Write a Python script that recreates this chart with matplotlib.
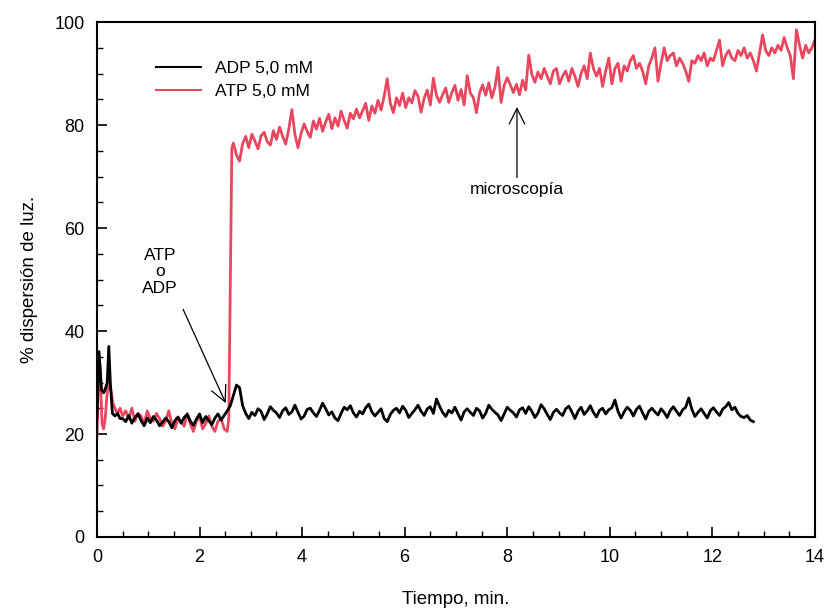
import numpy as np
import matplotlib
matplotlib.use("Agg")
import matplotlib.pyplot as plt
from matplotlib.ticker import MultipleLocator

plt.rcParams['font.family'] = ['Liberation Sans', 'DejaVu Sans']

# ---------------- data ----------------
# ADP 5,0 mM (black) : early explicit samples, then regular sampling
adp_t_early = [0.0, 0.02, 0.04, 0.06, 0.09, 0.13, 0.17, 0.20, 0.23, 0.26, 0.30, 0.35, 0.40, 0.45]
adp_v_early = [23, 30, 36, 33, 28.5, 28, 29, 30, 37, 30, 24, 23.5, 24, 23]
adp_t0, adp_dt = 0.5, 0.06
adp_v = [
    23.0, 22.4, 23.6, 22.1, 23.2, 23.9, 22.6, 21.6, 23.1, 22.2,
    23.4, 22.7, 21.6, 22.3, 23.1, 22.4, 21.2, 22.6, 23.3, 22.1,
    23.2, 23.8, 22.5, 21.7, 22.9, 23.9, 22.2, 23.4, 22.6, 21.8,
    23.1, 23.9, 22.7, 23.6,
    24.5, 25.5, 27.5, 29.5, 29.0, 25.5, 24.0, 23.0,
    24.2, 23.6, 24.9, 24.4, 22.8, 23.9, 25.3, 24.6, 24.1, 23.2,
    24.5, 25.1, 23.8, 24.3, 25.6, 24.2, 22.9, 23.5, 24.8, 25.0,
    24.1, 23.4, 24.6, 26.0, 24.9, 23.7, 24.3, 23.1, 22.6, 24.0,
    25.2, 24.7, 25.5, 24.1, 23.3, 24.4, 23.9, 25.1, 25.8, 24.3,
    23.5, 24.2, 24.9, 23.0, 22.4, 23.8, 24.6, 25.0, 24.1, 25.4,
    24.6, 23.2, 24.0, 24.7, 25.6, 24.4, 23.6, 24.9, 25.3, 24.0,
    26.8, 25.4, 24.2, 23.4, 24.6, 24.1, 25.2, 23.9, 22.7, 24.3,
    24.9, 24.2, 23.6, 25.0, 24.5, 23.1, 24.0, 25.6, 24.8, 24.2,
    23.7, 22.6, 23.9, 25.2, 24.6, 24.1, 23.3, 24.7, 25.1, 24.0,
    25.3, 24.4, 23.2, 24.1, 25.7, 24.9, 23.8, 22.8, 24.2, 24.8,
    24.1, 23.6, 24.9, 25.4, 24.3, 23.0, 24.4, 25.2, 23.8, 24.5,
    25.5, 24.2, 23.3, 24.6, 25.0, 23.9, 24.7, 25.1, 26.6, 24.4,
    23.1, 24.3, 25.2, 24.6, 23.5, 24.8, 25.4, 24.1, 22.9, 24.4,
    25.0, 24.3, 23.7, 24.9, 24.2, 23.2, 24.6, 25.3, 24.4, 23.6,
    24.7, 25.2, 27.0, 24.8, 23.4, 24.2, 24.9, 24.0, 23.1, 24.5,
    25.1, 24.3, 23.6, 24.8, 25.3, 26.1, 24.7, 25.2, 24.0, 23.4,
    23.2, 23.6, 22.7, 22.4,
]

# ATP 5,0 mM (red)
atp_t_early = [0.0, 0.02, 0.04, 0.06, 0.08, 0.10, 0.13, 0.16, 0.19, 0.22, 0.25, 0.28, 0.31, 0.35, 0.40, 0.45]
atp_v_early = [19.5, 28, 34, 33, 27, 22, 21, 23, 27, 30, 29.5, 28, 26, 25, 24, 25]
atp_t0_a, atp_dt = 0.5, 0.06
atp_v_a = [
    23.5, 24.5, 23.0, 25.0, 22.5, 24.0, 23.5, 22.0, 24.5, 23.0,
    22.5, 24.0, 23.0, 21.5, 22.5, 24.5, 22.0, 21.0, 23.0, 22.5,
    21.5, 24.0, 22.0, 20.5, 22.5, 23.5, 21.0, 22.0, 23.5, 21.5,
    20.5, 22.5, 23.0, 21.0, 20.5,
]
atp_t_jump = [2.57, 2.60, 2.63]
atp_v_jump = [23.0, 50.0, 75.5]
atp_t0_b = 2.66
atp_v_b = [
    76.5, 74.2, 73.0, 76.4, 77.8, 75.6, 78.2, 76.9, 75.4, 77.9,
    78.6, 76.8, 76.1, 78.9, 77.2, 79.6, 77.8, 76.3, 79.2, 83.0,
    78.2, 75.6, 78.4, 80.2, 78.7, 77.6, 80.8, 79.2, 81.3, 78.8,
    80.6, 82.1, 79.3, 81.4, 79.8, 82.7, 80.9, 79.4, 82.3, 81.2,
    83.1, 81.4, 82.8, 84.2, 80.9, 83.7, 82.3, 84.8, 82.9, 85.6,
    89.0, 84.2, 82.4, 85.3, 83.8, 86.2, 83.4, 85.3, 84.3, 86.7,
    85.6, 82.5, 85.2, 86.8, 83.9, 89.1, 85.8, 84.4, 85.9, 87.2,
    84.4, 86.3, 87.7, 84.8, 86.9, 83.9, 89.6, 86.2, 85.3, 82.4,
    86.2, 87.8, 85.8, 88.2, 85.3, 87.3, 91.2, 84.4, 87.7, 89.2,
    87.8, 86.3, 87.9, 85.9, 88.7, 86.8, 93.6, 89.8, 88.3, 90.3,
    89.0, 91.0, 89.5, 88.0, 90.5, 91.0, 88.0, 89.5, 90.5, 88.5,
    91.0, 89.5, 87.5, 90.0, 91.5, 89.0, 94.0, 91.0, 89.5, 91.0,
    87.5, 90.5, 93.0, 88.0, 91.0, 92.0, 88.5, 91.5, 90.5, 92.5,
    93.5, 91.0, 92.0, 90.5, 88.0, 91.5, 93.0, 95.0, 88.5, 92.0,
    95.0, 92.5, 93.5, 94.0, 91.5, 93.0, 92.0, 90.5, 88.5, 92.5,
    92.0, 93.5, 92.5, 94.0, 91.5, 93.0, 92.5, 94.5, 96.5, 91.5,
    93.5, 94.5, 93.0, 92.5, 94.5, 93.5, 95.0, 93.0, 94.0, 92.5,
    90.5, 94.0, 97.5, 94.5, 93.5, 95.0, 94.0, 95.5, 94.5, 97.0,
    95.0, 93.5, 89.0, 98.5, 95.5, 93.0, 95.5, 94.0, 95.0, 96.5,
]

x_ticks = [0, 2, 4, 6, 8, 10, 12, 14]
y_ticks = [0, 20, 40, 60, 80, 100]

# ---------------- build series ----------------
adp_t = np.concatenate([adp_t_early, adp_t0 + adp_dt * np.arange(len(adp_v))])
adp_y = np.concatenate([adp_v_early, adp_v])
atp_t = np.concatenate([atp_t_early,
                        atp_t0_a + atp_dt * np.arange(len(atp_v_a)),
                        atp_t_jump,
                        atp_t0_b + atp_dt * np.arange(len(atp_v_b))])
atp_y = np.concatenate([atp_v_early, atp_v_a, atp_v_jump, atp_v_b])

# ---------------- plot ----------------
fig = plt.figure(figsize=(8.29, 6.13), dpi=100)
ax = fig.add_axes([0.117, 0.124, 0.866, 0.840])

ax.plot(adp_t, adp_y, color='black', lw=2.0, label='ADP 5,0 mM', zorder=3)
ax.plot(atp_t, atp_y, color='#e8475f', lw=2.0, label='ATP 5,0 mM', zorder=2)

ax.set_xlim(0, 14)
ax.set_ylim(0, 100)
ax.set_xticks(x_ticks)
ax.set_yticks(y_ticks)
ax.xaxis.set_minor_locator(MultipleLocator(0.5))
ax.yaxis.set_minor_locator(MultipleLocator(5))
ax.tick_params(which='major', direction='in', length=7, width=1.2, labelsize=13, pad=9)
ax.tick_params(which='minor', direction='in', length=4, width=1.0)
for s in ax.spines.values():
    s.set_linewidth(1.5)

ax.set_xlabel('Tiempo, min.', fontsize=13.5, labelpad=18)
ax.set_ylabel('% dispersión de luz.', fontsize=13.5, labelpad=12)

leg = ax.legend(loc='upper left', bbox_to_anchor=(0.06, 0.955), frameon=False,
                fontsize=12.5, handlelength=2.6, handletextpad=0.8, labelspacing=0.45)
for h in leg.legend_handles:
    h.set_linewidth(1.5)

ax.text(1.23, 51.5, 'ATP\no\nADP', ha='center', va='center', fontsize=12.5, linespacing=1.1)
ax.annotate('', xy=(2.51, 26.0), xytext=(1.68, 44.2),
            arrowprops=dict(arrowstyle='->', color='black', lw=0.9,
                            mutation_scale=28, shrinkA=0, shrinkB=0))
ax.text(8.19, 67.4, 'microscopía', ha='center', va='center', fontsize=12.5)
ax.annotate('', xy=(8.19, 83.5), xytext=(8.19, 69.8),
            arrowprops=dict(arrowstyle='->', color='black', lw=0.9,
                            mutation_scale=28, shrinkA=0, shrinkB=0))

fig.savefig('out.png', dpi=100)
